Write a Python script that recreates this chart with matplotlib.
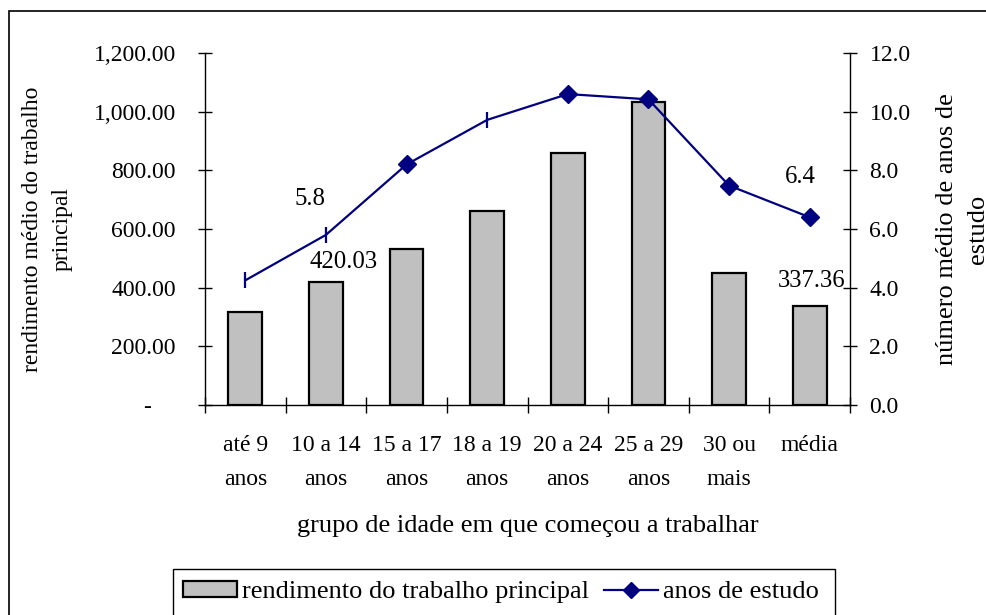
import matplotlib
matplotlib.use("Agg")
import matplotlib.pyplot as plt
from matplotlib.patches import Patch, Rectangle
from matplotlib.lines import Line2D
from matplotlib.ticker import FixedLocator, FuncFormatter

plt.rcParams['font.family'] = ['Liberation Serif', 'DejaVu Serif']
plt.rcParams['font.size'] = 17

# Data
categories = ["até 9\nanos", "10 a 14\nanos", "15 a 17\nanos", "18 a 19\nanos",
              "20 a 24\nanos", "25 a 29\nanos", "30 ou\nmais", "média"]
rendimento = [318.0, 420.03, 531.0, 660.0, 858.0, 1034.0, 449.0, 337.36]
anos_estudo = [4.25, 5.8, 8.2, 9.72, 10.6, 10.42, 7.48, 6.4]
left_ticks = [0, 200, 400, 600, 800, 1000, 1200]
right_ticks = [0, 2, 4, 6, 8, 10, 12]

W, H = 987, 615
fig = plt.figure(figsize=(W / 100, H / 100), dpi=100)

def fx(px):
    return px / W

def fy(py):
    return 1 - py / H

ax = fig.add_axes([fx(205), fy(405), fx(850) - fx(205), fy(53) - fy(405)])
ax2 = ax.twinx()

x = list(range(len(categories)))
ax.bar(x, rendimento, width=0.42, color="#C0C0C0", edgecolor="black",
       linewidth=1.6, zorder=2)

line_color = "#000080"
ax2.plot(x, anos_estudo, color=line_color, linewidth=1.6, zorder=3)
diamond_idx = [2, 4, 5, 6, 7]
tick_idx = [0, 1, 3]
ax2.plot([x[i] for i in diamond_idx], [anos_estudo[i] for i in diamond_idx],
         linestyle="none", marker="D", markersize=9, color=line_color, zorder=4)
ax2.plot([x[i] for i in tick_idx], [anos_estudo[i] for i in tick_idx],
         linestyle="none", marker="|", markersize=11, markeredgewidth=1.6,
         color=line_color, zorder=4)

ax.set_xlim(-0.5, len(categories) - 0.5)
ax.set_ylim(0, 1200)
ax2.set_ylim(0, 12)

# category boundaries carry the ticks, centres carry the labels
ax.xaxis.set_major_locator(FixedLocator([i - 0.5 for i in range(len(categories) + 1)]))
ax.xaxis.set_major_formatter(FuncFormatter(lambda v, p: ""))
ax.xaxis.set_minor_locator(FixedLocator(x))
ax.set_xticks(x, categories, minor=True)
ax.tick_params(axis="x", which="major", direction="inout", length=11, width=1)
ax.tick_params(axis="x", which="minor", length=0, pad=21.5)
for lbl in ax.get_xticklabels(minor=True):
    lbl.set_linespacing(1.85)

ax.yaxis.set_major_locator(FixedLocator(left_ticks))
ax.yaxis.set_major_formatter(FuncFormatter(
    lambda v, p: "-    " if v == 0 else f"{v:,.2f}"))
ax.tick_params(axis="y", direction="inout", length=10, width=1, pad=16)

ax2.yaxis.set_major_locator(FixedLocator(right_ticks))
ax2.yaxis.set_major_formatter(FuncFormatter(lambda v, p: f"{v:.1f}"))
ax2.tick_params(axis="y", direction="inout", length=10, width=1, pad=9)

for a in (ax, ax2):
    a.spines["top"].set_visible(False)
    for s in a.spines.values():
        s.set_linewidth(1)
ax.spines["right"].set_visible(False)
ax2.spines["left"].set_visible(False)
ax2.spines["bottom"].set_visible(False)

ax.set_xlabel("grupo de idade em que começou a trabalhar", fontsize=19,
              labelpad=18)
ax.set_ylabel("rendimento médio do trabalho\nprincipal", linespacing=1.55,
              labelpad=15)
ax2.set_ylabel("número médio de anos de\nestudo", fontsize=19,
               linespacing=1.55, rotation=90, labelpad=18)

# value labels
ax2.annotate(f"{anos_estudo[1]:.1f}", xy=(x[1], anos_estudo[1]),
             xytext=(-11.5, 26), textcoords="offset points",
             ha="center", va="center", fontsize=17.8)
ax2.annotate(f"{anos_estudo[7]:.1f}", xy=(x[7], anos_estudo[7]),
             xytext=(-7, 29), textcoords="offset points",
             ha="center", va="center", fontsize=17.8)
ax.annotate(f"{rendimento[1]:.2f}", xy=(x[1], rendimento[1]),
            xytext=(13, 14), textcoords="offset points",
            ha="center", va="center", fontsize=17.8, zorder=5)
ax.annotate(f"{rendimento[7]:.2f}", xy=(x[7], rendimento[7]),
            xytext=(1.5, 18), textcoords="offset points",
            ha="center", va="center", fontsize=17.8, zorder=5)

# chart frame
fig.patches.append(Rectangle((fx(9), -0.1), 1.2, fy(11) + 0.1,
                             transform=fig.transFigure, fill=False,
                             edgecolor="black", linewidth=1.2))
# legend frame
fig.patches.append(Rectangle((fx(173), -0.1), fx(835) - fx(173), fy(569) + 0.1,
                             transform=fig.transFigure, fill=False,
                             edgecolor="black", linewidth=1.0))

handles = [
    Patch(facecolor="#C0C0C0", edgecolor="black", linewidth=1.6,
          label="rendimento do trabalho principal"),
    Line2D([0], [0], color=line_color, linewidth=1.6, marker="D",
           markersize=8, label="anos de estudo"),
]
fig.legend(handles=handles, loc="center left",
           bbox_to_anchor=(fx(183), fy(592)), ncol=2, frameon=False,
           borderpad=0, borderaxespad=0, handlelength=2.05, fontsize=19,
           handleheight=0.6, handletextpad=0.2, columnspacing=0.55)

fig.savefig("out.png", dpi=100)
